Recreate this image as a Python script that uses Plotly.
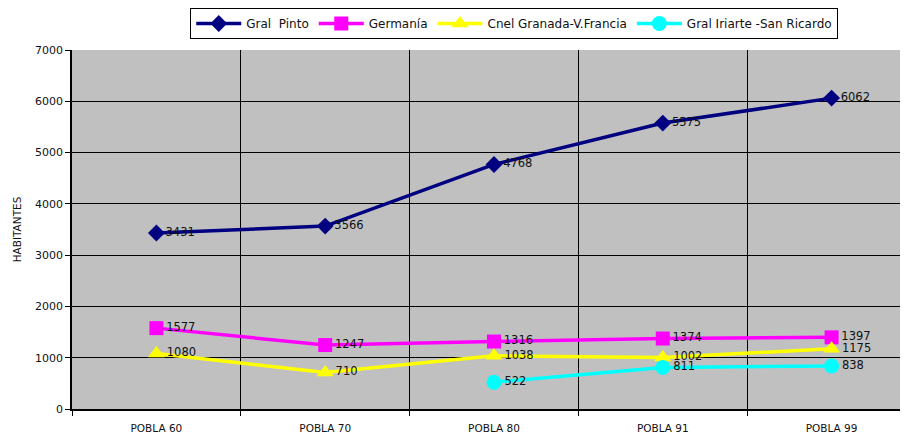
import plotly.graph_objects as go

categories = ["POBLA 60", "POBLA 70", "POBLA 80", "POBLA 91", "POBLA 99"]
gral_pinto = [3431, 3566, 4768, 5575, 6062]
germania = [1577, 1247, 1316, 1374, 1397]
cnel_granada = [1080, 710, 1038, 1002, 1175]
gral_iriarte = [None, None, 522, 811, 838]

series = [
    ("Gral\u00a0\u00a0Pinto", gral_pinto, "#000080", "diamond", 13),
    ("Germanía", germania, "#FF00FF", "square", 14),
    ("Cnel Granada-V.Francia", cnel_granada, "#FFFF00", "triangle-up", 15),
    ("Gral Iriarte -San Ricardo", gral_iriarte, "#00FFFF", "circle", 15),
]

fig = go.Figure()
for name, vals, color, sym, size in series:
    fig.add_trace(go.Scatter(
        x=categories, y=vals, name=name, mode="lines+markers+text",
        line=dict(color=color, width=3.5),
        marker=dict(color=color, symbol=sym, size=size, line=dict(width=0)),
        text=[("" if v is None else str(v)) for v in vals],
        textposition="middle right",
        textfont=dict(color="#111111", size=11.5, family="DejaVu Sans"),
        connectgaps=False,
        cliponaxis=False,
    ))

fig.update_layout(
    width=908, height=435,
    margin=dict(l=63.5, r=0, t=42, b=34, autoexpand=False),
    paper_bgcolor="white",
    plot_bgcolor="#C0C0C0",
    font=dict(family="DejaVu Sans", size=10.5, color="#111111"),
    showlegend=True,
    legend=dict(
        orientation="h", x=0.524, xanchor="center", y=1.117, yanchor="top",
        bordercolor="black", borderwidth=1, bgcolor="white",
        font=dict(size=12, family="DejaVu Sans"),
        itemwidth=45, tracegroupgap=0,
    ),
    xaxis=dict(
        type="category", range=[-0.5, 4.5], tickson="boundaries",
        showgrid=True, gridcolor="#000000", gridwidth=1,
        ticks="outside", ticklen=5, tickcolor="black",
        showline=True, linecolor="black", linewidth=1.5,
        tickfont=dict(size=10.5),
        ticklabelstandoff=9,
        fixedrange=True,
    ),
    yaxis=dict(
        range=[0, 7000], dtick=1000,
        showgrid=True, gridcolor="#000000", gridwidth=1,
        ticks="outside", ticklen=5, tickcolor="black",
        showline=True, linecolor="black", linewidth=1.5,
        title=dict(text="HABITANTES", font=dict(size=10.5), standoff=11),
        tickfont=dict(size=11),
        zeroline=False,
    ),
)

fig.write_html("out.html")
